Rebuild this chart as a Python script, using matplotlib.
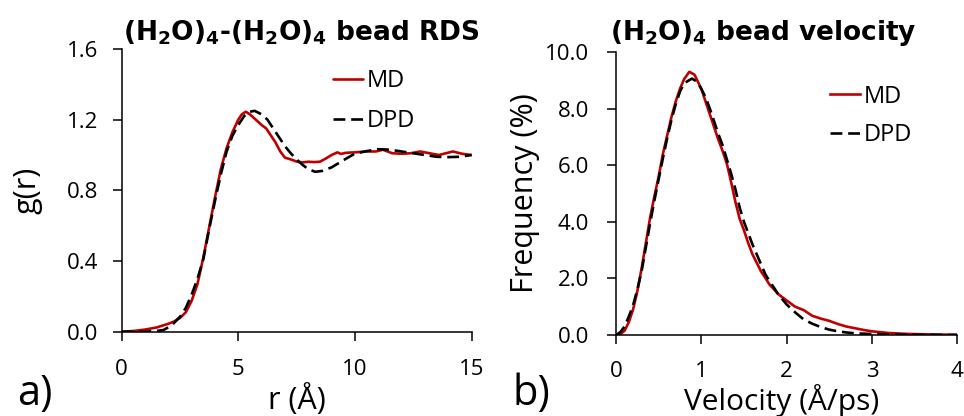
import matplotlib
matplotlib.use("Agg")
import matplotlib.pyplot as plt

plt.rcParams['font.family'] = ['Open Sans', 'DejaVu Sans']
plt.rcParams['mathtext.fontset'] = 'dejavusans'

# ---------------- data ----------------
rdf_r_md = [0, 0.5, 1.0, 1.5, 2.0, 2.25, 2.5, 2.75, 3.0, 3.25, 3.5, 3.75, 4.0, 4.25, 4.5,
            4.75, 5.0, 5.15, 5.32, 5.5, 5.75, 6.0, 6.2, 6.4, 6.6, 6.8, 7.0, 7.25, 7.5,
            7.75, 8.0, 8.25, 8.5, 8.75, 9.0, 9.25, 9.4, 9.6, 9.8, 10.0, 10.5, 10.9, 11.2,
            11.6, 12.0, 12.4, 12.8, 13.2, 13.6, 13.9, 14.2, 14.6, 15.0]
rdf_g_md = [0, 0.004, 0.012, 0.024, 0.045, 0.058, 0.078, 0.11, 0.175, 0.27, 0.42, 0.59,
            0.76, 0.92, 1.04, 1.13, 1.2, 1.23, 1.245, 1.23, 1.20, 1.17, 1.15, 1.11, 1.07,
            1.02, 0.985, 0.975, 0.963, 0.958, 0.962, 0.96, 0.962, 0.98, 1.0, 1.015, 1.006,
            1.012, 1.014, 1.015, 1.02, 1.02, 1.03, 1.01, 1.007, 1.01, 1.02, 1.01, 1.0,
            1.01, 1.02, 1.007, 1.0]

rdf_r_dpd = [0, 1.0, 1.5, 1.8, 2.0, 2.25, 2.5, 2.75, 3.0, 3.25, 3.5, 3.75, 4.0, 4.25, 4.5,
             4.75, 5.0, 5.25, 5.5, 5.7, 6.0, 6.25, 6.5, 6.75, 7.0, 7.25, 7.5, 7.75, 8.0,
             8.3, 8.6, 9.0, 9.5, 10.0, 10.5, 11.0, 11.5, 12.0, 12.5, 13.0, 13.5, 14.0,
             14.5, 15.0]
rdf_g_dpd = [0, 0, 0.004, 0.01, 0.025, 0.05, 0.085, 0.135, 0.21, 0.3, 0.41, 0.58, 0.74,
             0.89, 1.02, 1.11, 1.17, 1.22, 1.245, 1.25, 1.23, 1.2, 1.15, 1.1, 1.05, 1.01,
             0.975, 0.945, 0.92, 0.905, 0.91, 0.93, 0.97, 1.008, 1.022, 1.033, 1.03, 1.02,
             1.01, 1.0, 0.99, 0.988, 0.99, 1.0]

vel_v_md = [0, 0.05, 0.1, 0.15, 0.2, 0.25, 0.3, 0.35, 0.4, 0.45, 0.5, 0.55, 0.6, 0.65,
            0.7, 0.75, 0.8, 0.86, 0.92, 1.0, 1.05, 1.1, 1.15, 1.2, 1.25, 1.3, 1.35, 1.4,
            1.45, 1.5, 1.55, 1.6, 1.65, 1.7, 1.75, 1.8, 1.85, 1.9, 2.0, 2.1, 2.2, 2.3,
            2.4, 2.5, 2.6, 2.7, 2.8, 2.9, 3.0, 3.2, 3.4, 3.6, 3.8, 4.0]
vel_f_md = [0, 0.03, 0.15, 0.45, 0.9, 1.55, 2.35, 3.25, 4.15, 4.9, 5.6, 6.4, 7.05, 7.7,
            8.25, 8.7, 9.05, 9.3, 9.2, 8.7, 8.25, 7.8, 7.35, 6.9, 6.5, 6.05, 5.4, 4.7,
            4.1, 3.7, 3.25, 2.85, 2.55, 2.25, 2.02, 1.78, 1.62, 1.45, 1.22, 1.0, 0.88,
            0.68, 0.58, 0.5, 0.39, 0.3, 0.24, 0.18, 0.13, 0.07, 0.04, 0.025, 0.015, 0.01]

vel_v_dpd = [0, 0.05, 0.1, 0.15, 0.2, 0.25, 0.3, 0.35, 0.4, 0.45, 0.5, 0.55, 0.6, 0.65,
             0.7, 0.75, 0.8, 0.89, 0.95, 1.0, 1.05, 1.1, 1.15, 1.2, 1.25, 1.3, 1.35, 1.4,
             1.45, 1.5, 1.55, 1.6, 1.65, 1.7, 1.75, 1.8, 1.85, 1.9, 2.0, 2.1, 2.2, 2.3,
             2.4, 2.5, 2.6, 2.7, 2.8, 3.0, 3.4, 4.0]
vel_f_dpd = [0, 0.1, 0.3, 0.65, 1.05, 1.6, 2.25, 3.1, 3.95, 4.75, 5.5, 6.25, 6.95, 7.6,
             8.15, 8.6, 8.9, 9.06, 8.95, 8.7, 8.4, 8.0, 7.55, 7.1, 6.7, 6.2, 5.7, 5.15,
             4.5, 4.0, 3.6, 3.2, 2.85, 2.5, 2.15, 1.9, 1.68, 1.45, 1.08, 0.8, 0.55, 0.4,
             0.28, 0.19, 0.13, 0.09, 0.06, 0.035, 0.01, 0.0]

rdf_xticks = [0, 5, 10, 15]
rdf_yticks = [0.0, 0.4, 0.8, 1.2, 1.6]
vel_xticks = [0, 1, 2, 3, 4]
vel_yticks = [0.0, 2.0, 4.0, 6.0, 8.0, 10.0]

RED = '#C00000'
W, H = 964, 416

fig = plt.figure(figsize=(W / 100, H / 100), dpi=100)

def px_rect(x0, x1, ybot, ytop):
    return [x0 / W, (H - ybot) / H, (x1 - x0) / W, (ybot - ytop) / H]

ax1 = fig.add_axes(px_rect(121.7, 471.5, 331.7, 49.0))
ax2 = fig.add_axes(px_rect(616.0, 957.2, 335.0, 52.0))

def style(ax, xpad, ypad):
    for s in ['top', 'right']:
        ax.spines[s].set_visible(False)
    for s in ['left', 'bottom']:
        ax.spines[s].set_linewidth(1.1)
        ax.spines[s].set_color('black')
    ax.tick_params(axis='both', direction='out', length=6.5, width=1.1,
                   labelsize=16, colors='black')
    ax.tick_params(axis='x', pad=xpad)
    ax.tick_params(axis='y', pad=ypad)

# ---- panel a ----
ax1.plot(rdf_r_md, rdf_g_md, color=RED, lw=1.9, label='MD', solid_capstyle='round')
ax1.plot(rdf_r_dpd, rdf_g_dpd, color='black', lw=1.9, dashes=(4.5, 2.2), label='DPD')
ax1.set_xlim(0, 15)
ax1.set_ylim(0, 1.6)
ax1.set_xticks(rdf_xticks)
ax1.set_yticks(rdf_yticks)
ax1.set_yticklabels([f'{v:.1f}' for v in rdf_yticks])
style(ax1, 13.5, 10.4)
ax1.set_xlabel('r (Å)', fontsize=22)
ax1.xaxis.set_label_coords(0.5, -0.272)
ax1.xaxis.label.set_verticalalignment('baseline')
ax1.set_ylabel('g(r)', fontsize=22)
ax1.yaxis.set_label_coords(-0.225, 0.5)
ax1.set_title(r'(H$_\mathbf{2}$O)$_\mathbf{4}$-(H$_\mathbf{2}$O)$_\mathbf{4}$ bead RDS',
              family='DejaVu Sans', fontweight='bold', fontsize=19, x=0.514, pad=6)
ax1.legend(loc='upper left', bbox_to_anchor=(0.605, 0.93), frameon=False,
           fontsize=17, handlelength=1.25, handletextpad=0.15, labelspacing=0.7,
           borderpad=0, borderaxespad=0)

# ---- panel b ----
ax2.plot(vel_v_md, vel_f_md, color=RED, lw=1.9, label='MD')
ax2.plot(vel_v_dpd, vel_f_dpd, color='black', lw=1.9, dashes=(4.5, 2.2), label='DPD')
ax2.set_xlim(0, 4)
ax2.set_ylim(0, 10)
ax2.set_xticks(vel_xticks)
ax2.set_yticks(vel_yticks)
ax2.set_yticklabels([f'{v:.1f}' for v in vel_yticks])
style(ax2, 12, 13)
ax2.set_xlabel('Velocity (Å/ps)', fontsize=21.5)
ax2.xaxis.set_label_coords(0.486, -0.266)
ax2.xaxis.label.set_verticalalignment('baseline')
ax2.set_ylabel('Frequency (%)', fontsize=22)
ax2.yaxis.set_label_coords(-0.223, 0.5)
ax2.set_title(r'(H$_\mathbf{2}$O)$_\mathbf{4}$ bead velocity',
              family='DejaVu Sans', fontweight='bold', fontsize=19, x=0.431, pad=9)
ax2.legend(loc='upper left', bbox_to_anchor=(0.628, 0.885), frameon=False,
           fontsize=17, handlelength=1.25, handletextpad=0.15, labelspacing=0.62,
           borderpad=0, borderaxespad=0)

# panel letters
fig.text(17 / W, (H - 405) / H, 'a)', fontsize=30, va='baseline', ha='left')
fig.text(513 / W, (H - 405) / H, 'b)', fontsize=30, va='baseline', ha='left')

fig.savefig('out.png', dpi=100)
